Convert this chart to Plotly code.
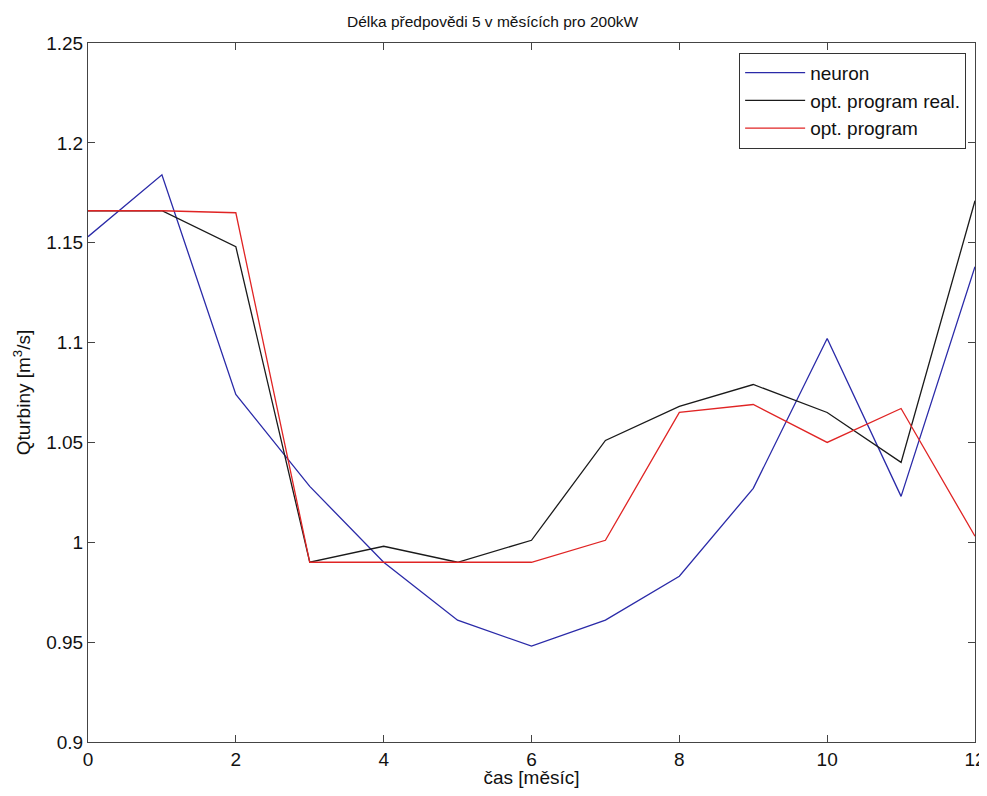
import plotly.graph_objects as go

months = list(range(13))
neuron = [1.153, 1.184, 1.074, 1.028, 0.990, 0.961, 0.948, 0.961, 0.983, 1.027, 1.102, 1.023, 1.138]
opt_real = [1.166, 1.166, 1.148, 0.990, 0.998, 0.990, 1.001, 1.051, 1.068, 1.079, 1.065, 1.040, 1.171]
opt_prog = [1.166, 1.166, 1.165, 0.990, 0.990, 0.990, 0.990, 1.001, 1.065, 1.069, 1.050, 1.067, 1.003]

x_ticks = [0, 2, 4, 6, 8, 10, 12]
y_ticks = [0.9, 0.95, 1.0, 1.05, 1.1, 1.15, 1.2, 1.25]
y_tick_text = ["0.9", "0.95", "1", "1.05", "1.1", "1.15", "1.2", "1.25"]

fig = go.Figure()
fig.add_trace(go.Scatter(x=months, y=neuron, mode="lines", name="neuron",
                         line=dict(color="#2a2aa8", width=1.3)))
fig.add_trace(go.Scatter(x=months, y=opt_real, mode="lines", name="opt. program real.",
                         line=dict(color="#1a1a1a", width=1.3)))
fig.add_trace(go.Scatter(x=months, y=opt_prog, mode="lines", name="opt. program",
                         line=dict(color="#e02424", width=1.3)))

font_family = "Liberation Sans, Arial, sans-serif"
fig.update_layout(
    width=979, height=780,
    margin=dict(l=80, r=12, t=35, b=46, autoexpand=False),
    paper_bgcolor="white", plot_bgcolor="white",
    font=dict(family=font_family, size=19, color="#111"),
    title=dict(text="Délka předpovědi 5 v měsících pro 200kW", x=0.495, xanchor="center",
               y=0.99, yanchor="top", font=dict(size=15.5)),
    showlegend=True,
    legend=dict(x=0.99, y=0.986, xanchor="right", yanchor="top",
                bordercolor="#333", borderwidth=1, bgcolor="white",
                font=dict(size=19), tracegroupgap=0, itemwidth=60),
    xaxis=dict(range=[0, 12], tickvals=x_ticks, ticks="inside", ticklen=7,
               showline=True, linecolor="#444", linewidth=1, mirror="ticks",
               showgrid=False, zeroline=False, tickcolor="#444",
               automargin=False, ticklabeloverflow="allow",
               title=dict(text="čas [měsíc]", standoff=1, font=dict(size=19))),
    yaxis=dict(range=[0.9, 1.25], tickvals=y_ticks, ticktext=y_tick_text,
               ticks="inside", ticklen=7,
               showline=True, linecolor="#444", linewidth=1, mirror="ticks",
               showgrid=False, zeroline=False, tickcolor="#444",
               automargin=False,
               title=dict(text="Qturbiny [m<sup>3</sup>/s]", standoff=10, font=dict(size=19))),
)

fig.write_html("out.html")
